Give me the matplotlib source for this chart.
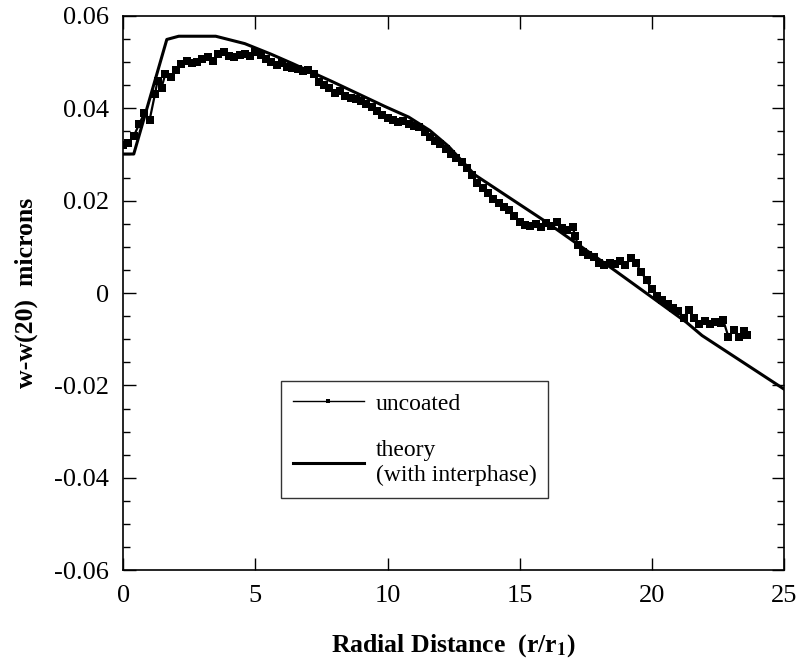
import matplotlib
matplotlib.use('Agg')
import matplotlib.pyplot as plt
from matplotlib.ticker import MultipleLocator, FuncFormatter

# --- dados medidos (uncoated) ---
x_unc = [0.0, 0.2, 0.4, 0.6, 0.8, 1.0, 1.2, 1.3, 1.45, 1.6, 1.8, 2.0, 2.2, 2.4, 2.6,
         2.8, 3.0, 3.2, 3.4, 3.6, 3.8, 4.0, 4.2, 4.4, 4.6, 4.8, 5.0, 5.2, 5.4, 5.6,
         5.8, 6.0, 6.2, 6.4, 6.6, 6.8, 7.0, 7.2, 7.4, 7.6, 7.8, 8.0, 8.2, 8.4, 8.6,
         8.8, 9.0, 9.2, 9.4, 9.6, 9.8, 10.0, 10.2, 10.4, 10.6, 10.8, 11.0, 11.2, 11.4,
         11.6, 11.8, 12.0, 12.2, 12.4, 12.6, 12.8, 13.0, 13.2, 13.4, 13.6, 13.8, 14.0,
         14.2, 14.4, 14.6, 14.8, 15.0, 15.2, 15.4, 15.6, 15.8, 16.0, 16.2, 16.4, 16.6,
         16.8, 17.0, 17.1, 17.2, 17.4, 17.6, 17.8, 18.0, 18.2, 18.4, 18.6, 18.8, 19.0,
         19.2, 19.4, 19.6, 19.8, 20.0, 20.2, 20.4, 20.6, 20.8, 21.0, 21.2, 21.4, 21.6,
         21.8, 22.0, 22.2, 22.4, 22.6, 22.7, 22.9, 23.1, 23.3, 23.5, 23.6]
y_unc = [0.0320, 0.0325, 0.0340, 0.0365, 0.0390, 0.0375, 0.0430, 0.0460, 0.0445, 0.0475,
         0.0468, 0.0482, 0.0495, 0.0502, 0.0498, 0.0500, 0.0507, 0.0510, 0.0503, 0.0517,
         0.0522, 0.0513, 0.0510, 0.0515, 0.0517, 0.0513, 0.0521, 0.0516, 0.0506, 0.0500,
         0.0493, 0.0497, 0.0490, 0.0487, 0.0484, 0.0480, 0.0482, 0.0474, 0.0458, 0.0451,
         0.0444, 0.0434, 0.0438, 0.0427, 0.0423, 0.0420, 0.0415, 0.0409, 0.0402, 0.0395,
         0.0385, 0.0380, 0.0375, 0.0370, 0.0372, 0.0367, 0.0361, 0.0359, 0.0348, 0.0338,
         0.0330, 0.0322, 0.0312, 0.0302, 0.0292, 0.0283, 0.0271, 0.0256, 0.0238, 0.0228,
         0.0216, 0.0204, 0.0195, 0.0187, 0.0179, 0.0166, 0.0153, 0.0148, 0.0145, 0.0149,
         0.0143, 0.0151, 0.0146, 0.0153, 0.0141, 0.0137, 0.0143, 0.0124, 0.0104, 0.0089,
         0.0082, 0.0077, 0.0065, 0.0060, 0.0065, 0.0063, 0.0070, 0.0060, 0.0075, 0.0065,
         0.0045, 0.0028, 0.0008, -0.0006, -0.0016, -0.0024, -0.0033, -0.0038, -0.0053,
         -0.0037, -0.0053, -0.0066, -0.0061, -0.0068, -0.0063, -0.0065, -0.0059, -0.0095,
         -0.0080, -0.0096, -0.0082, -0.0090]

# --- curva teórica (with interphase) ---
x_theory = [0.0, 0.4, 1.65, 2.1, 3.5, 4.6, 5.6, 6.4, 7.9, 9.9, 10.8, 11.6, 12.3, 13.3,
            16.0, 18.5, 20.0, 21.3, 21.9, 25.0]
y_theory = [0.0301, 0.0301, 0.0549, 0.0556, 0.0556, 0.0540, 0.0517, 0.0497, 0.0458,
            0.0404, 0.0381, 0.0352, 0.0318, 0.0256, 0.0154, 0.0053, -0.0009, -0.0063,
            -0.0092, -0.0208]

plt.rcParams['font.family'] = 'Liberation Serif'
plt.rcParams['mathtext.fontset'] = 'stix'
plt.rcParams['axes.unicode_minus'] = False

fig = plt.figure(figsize=(8, 6.63), dpi=100)
ax = fig.add_axes([0.154, 0.140, 0.826, 0.836])

ax.plot(x_unc, y_unc, color='black', lw=1.6, marker='s', ms=6, mew=0,
        label='uncoated')
ax.plot(x_theory, y_theory, color='black', lw=2.2,
        label='theory\n(with interphase)')

ax.set_xlim(0, 25)
ax.set_ylim(-0.06, 0.06)
ax.xaxis.set_major_locator(MultipleLocator(5))
ax.yaxis.set_major_locator(MultipleLocator(0.02))
ax.yaxis.set_minor_locator(MultipleLocator(0.005))
ax.yaxis.set_major_formatter(FuncFormatter(lambda v, p: '0' if abs(v) < 1e-9 else f'{v:.2f}'))

ax.tick_params(which='both', direction='in', top=True, right=True, labelsize=19)
ax.tick_params(which='major', length=9, width=1)
ax.tick_params(which='minor', length=5, width=1)
ax.tick_params(axis='x', pad=11)
ax.tick_params(axis='y', pad=10)
for s in ax.spines.values():
    s.set_linewidth(1.2)

ax.set_xlabel(r'Radial Distance  (r/r$_{\mathbf{1}}$)', fontsize=18.5, fontweight='bold',
              labelpad=18)
ax.set_ylabel('w-w(20)  microns', fontsize=18.5, fontweight='bold', labelpad=12)

leg = ax.legend(loc='upper left', bbox_to_anchor=(0.239, 0.341), fontsize=17,
                frameon=True, fancybox=False, edgecolor='black', handlelength=3.0,
                handletextpad=0.5, labelspacing=1.1, borderpad=0.5, borderaxespad=0,
                markerscale=0.6)
leg.get_frame().set_linewidth(1.0)
leg.get_lines()[0].set_linewidth(1.0)

fig.savefig('out.png', dpi=100)
